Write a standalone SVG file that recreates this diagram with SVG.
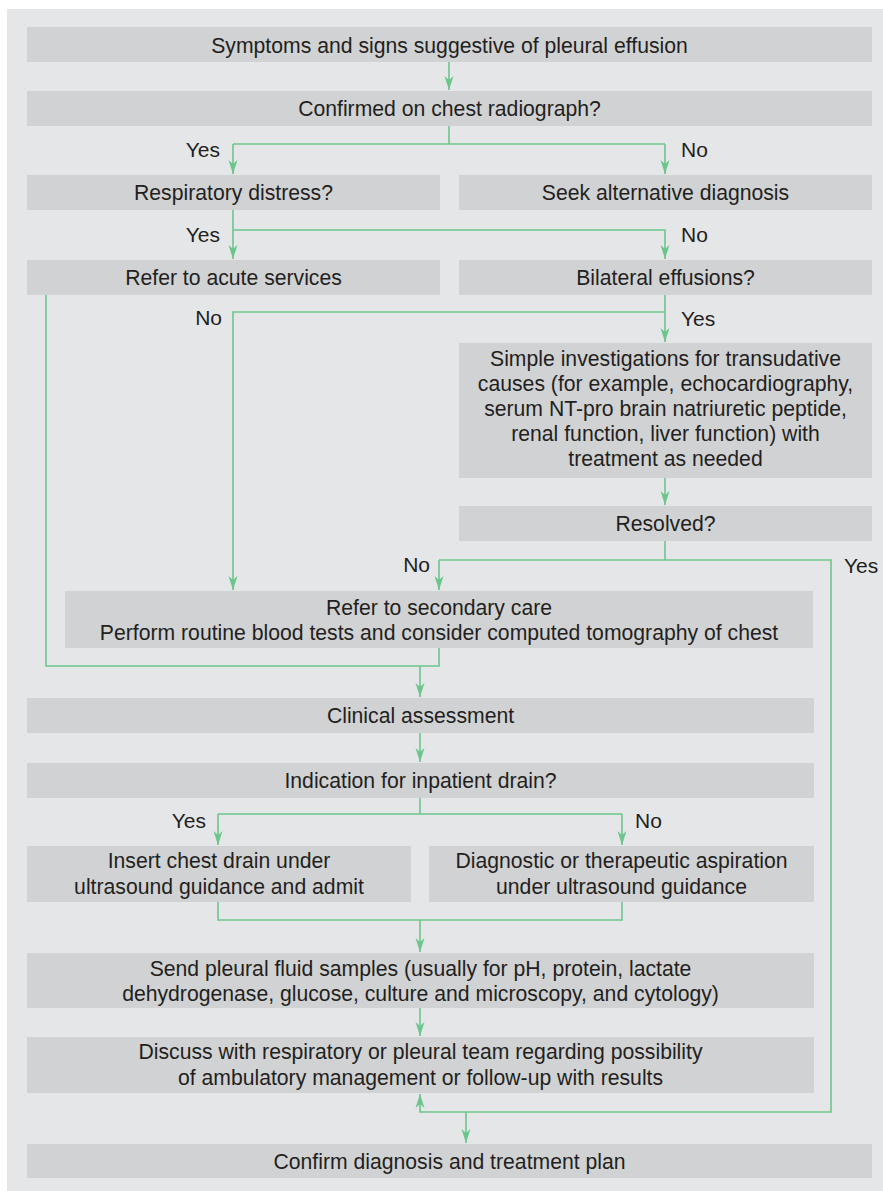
<svg xmlns="http://www.w3.org/2000/svg" width="883" height="1191" viewBox="0 0 883 1191">
<style>
.box{fill:#d1d2d4}
.t{font-family:"Liberation Sans",Arial,Helvetica,sans-serif;font-size:21.2px;fill:#231f20;text-anchor:middle}
.lbl{font-family:"Liberation Sans",Arial,Helvetica,sans-serif;font-size:21px;fill:#231f20}
.end{text-anchor:end}
.c{fill:none;stroke:#6cc68c;stroke-width:1.6}
.a{marker-end:url(#arr)}
</style>
<defs>
<marker id="arr" markerUnits="userSpaceOnUse" markerWidth="16" markerHeight="12" refX="14" refY="5" orient="auto">
<path d="M0,0.5 L14,5 L0,9.5 L4,5 Z" fill="#6cc68c"/>
</marker>
</defs>
<rect x="7" y="9" width="876" height="1182" fill="#e5e6e8"/>

<g id="n1"><rect class="box" x="27" y="27" width="845" height="35"/><text class="t" x="449.5" y="52.5">Symptoms and signs suggestive of pleural effusion</text></g>
<g id="n2"><rect class="box" x="27" y="91" width="845" height="35"/><text class="t" x="449.5" y="116">Confirmed on chest radiograph?</text></g>
<g id="n3"><rect class="box" x="27" y="175" width="413" height="35"/><text class="t" x="233.5" y="200">Respiratory distress?</text></g>
<g id="n4"><rect class="box" x="459" y="175" width="413" height="35"/><text class="t" x="665.5" y="200">Seek alternative diagnosis</text></g>
<g id="n5"><rect class="box" x="27" y="260" width="413" height="35"/><text class="t" x="233.5" y="285">Refer to acute services</text></g>
<g id="n6"><rect class="box" x="459" y="260" width="413" height="35"/><text class="t" x="665.5" y="285">Bilateral effusions?</text></g>
<g id="n7"><rect class="box" x="459" y="343" width="413" height="135"/>
<text class="t" x="665.5" y="366">Simple investigations for transudative</text>
<text class="t" x="665.5" y="391">causes (for example, echocardiography,</text>
<text class="t" x="665.5" y="416">serum NT-pro brain natriuretic peptide,</text>
<text class="t" x="665.5" y="441">renal function, liver function) with</text>
<text class="t" x="665.5" y="466">treatment as needed</text></g>
<g id="n8"><rect class="box" x="459" y="506" width="413" height="35"/><text class="t" x="665.5" y="531">Resolved?</text></g>
<g id="n9"><rect class="box" x="65" y="591" width="748" height="57"/>
<text class="t" x="439" y="614.5">Refer to secondary care</text>
<text class="t" x="439" y="639.5">Perform routine blood tests and consider computed tomography of chest</text></g>
<g id="n10"><rect class="box" x="27" y="698" width="787" height="35"/><text class="t" x="420.5" y="723">Clinical assessment</text></g>
<g id="n11"><rect class="box" x="27" y="763" width="787" height="35"/><text class="t" x="420.5" y="788">Indication for inpatient drain?</text></g>
<g id="n12"><rect class="box" x="27" y="846" width="384" height="56"/>
<text class="t" x="219" y="868">Insert chest drain under</text>
<text class="t" x="219" y="893.5">ultrasound guidance and admit</text></g>
<g id="n13"><rect class="box" x="429" y="846" width="385" height="56"/>
<text class="t" x="621.5" y="868">Diagnostic or therapeutic aspiration</text>
<text class="t" x="621.5" y="893.5">under ultrasound guidance</text></g>
<g id="n14"><rect class="box" x="27" y="953" width="787" height="55"/>
<text class="t" x="420.5" y="975.5">Send pleural fluid samples (usually for pH, protein, lactate</text>
<text class="t" x="420.5" y="1000.5">dehydrogenase, glucose, culture and microscopy, and cytology)</text></g>
<g id="n15"><rect class="box" x="27" y="1037" width="787" height="56"/>
<text class="t" x="420.5" y="1059">Discuss with respiratory or pleural team regarding possibility</text>
<text class="t" x="420.5" y="1084.5">of ambulatory management or follow-up with results</text></g>
<g id="n16"><rect class="box" x="27" y="1144" width="845" height="34"/><text class="t" x="449.5" y="1168.5">Confirm diagnosis and treatment plan</text></g>

<g id="connectors">
<path class="c a" d="M449,62 V90"/>
<path class="c" d="M449,126 V144 M233,144 H665"/>
<path class="c a" d="M233,144 V174"/>
<path class="c a" d="M665,144 V174"/>
<path class="c a" d="M233,210 V259"/>
<path class="c a" d="M233,230 H665 V259"/>
<path class="c a" d="M665,295 V342"/>
<path class="c a" d="M665,312 H233 V590"/>
<path class="c a" d="M665,478 V505"/>
<path class="c" d="M665,541 V560"/>
<path class="c a" d="M439,560 V590"/>
<path class="c a" d="M439,560 H831 V1112 H420 V1094"/>
<path class="c" d="M46,295 V666 H439 V648"/>
<path class="c a" d="M420,666 V697"/>
<path class="c a" d="M420,733 V762"/>
<path class="c" d="M420,798 V814 M218,814 H622"/>
<path class="c a" d="M218,814 V845"/>
<path class="c a" d="M622,814 V845"/>
<path class="c" d="M218,902 V920 H622 V902"/>
<path class="c a" d="M420,920 V952"/>
<path class="c a" d="M420,1008 V1036"/>
<path class="c a" d="M466,1112 V1143"/>
</g>

<g id="labels">
<text class="lbl end" x="220" y="157">Yes</text>
<text class="lbl" x="681" y="157">No</text>
<text class="lbl end" x="220" y="242">Yes</text>
<text class="lbl" x="681" y="242">No</text>
<text class="lbl end" x="222" y="325">No</text>
<text class="lbl" x="681" y="326">Yes</text>
<text class="lbl end" x="430" y="572">No</text>
<text class="lbl" x="844" y="573">Yes</text>
<text class="lbl end" x="206" y="828">Yes</text>
<text class="lbl" x="635" y="828">No</text>
</g>
</svg>
